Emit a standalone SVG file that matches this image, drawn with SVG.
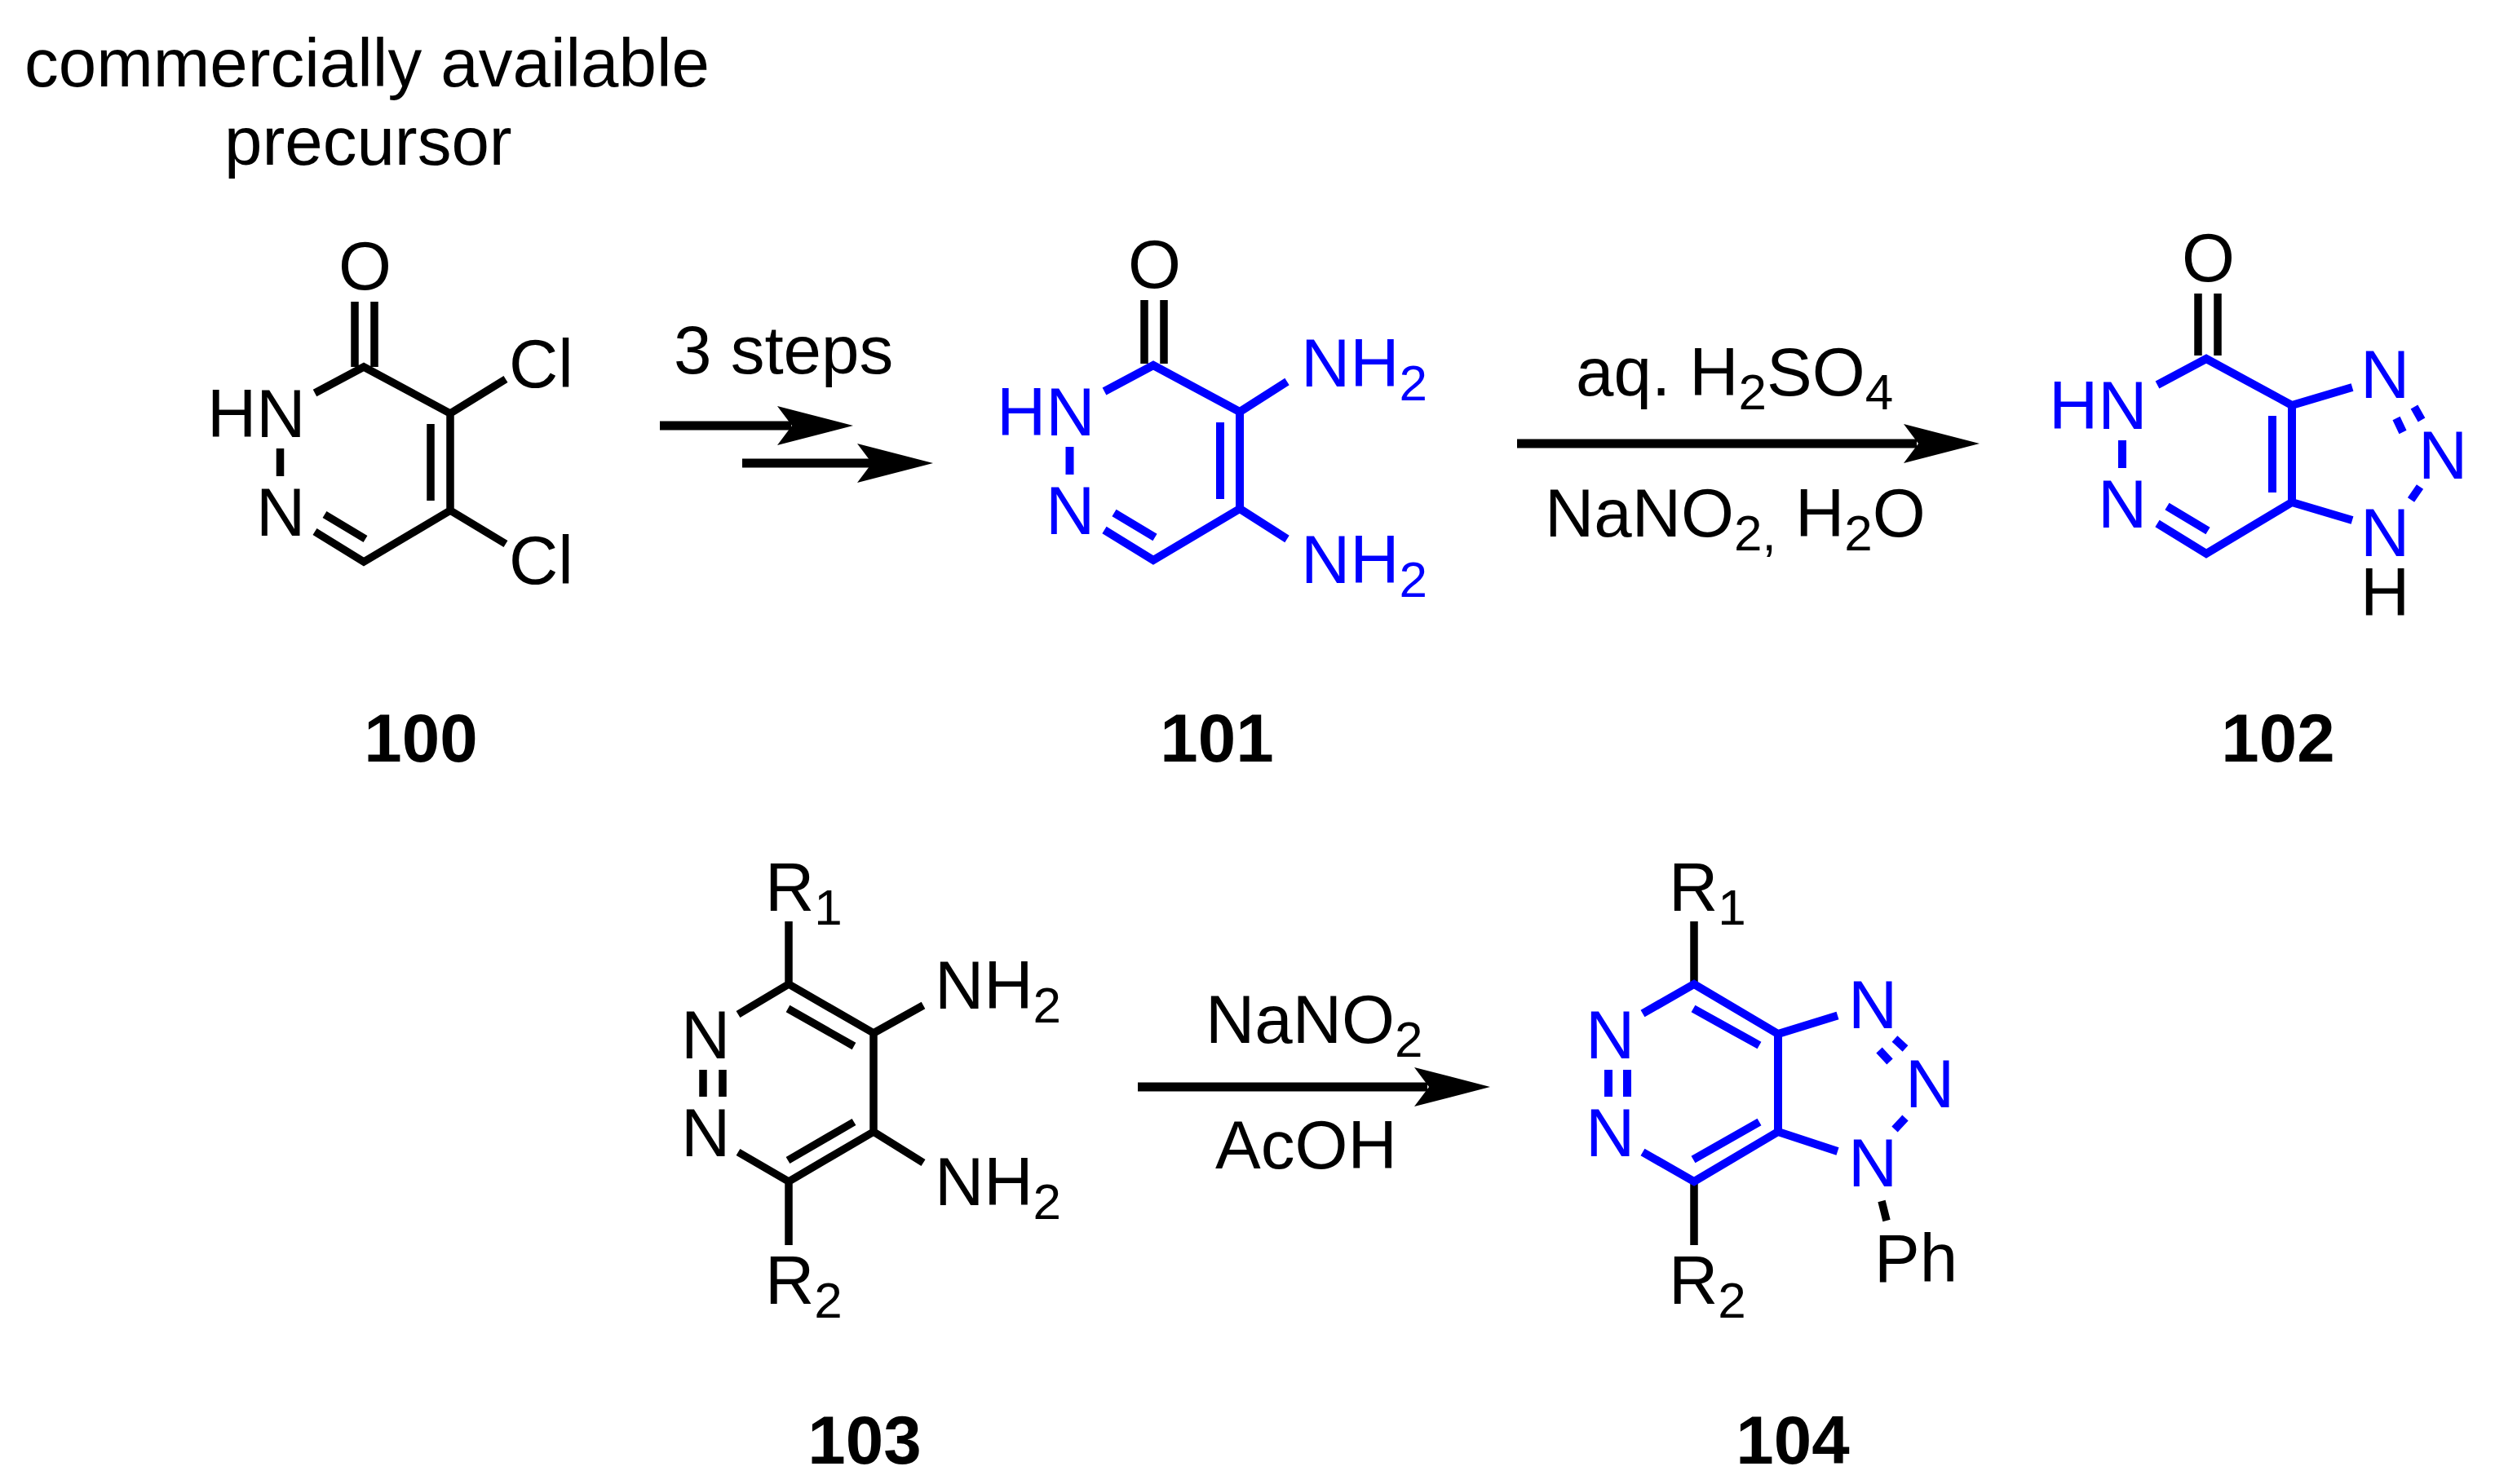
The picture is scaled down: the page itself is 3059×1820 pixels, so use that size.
<svg xmlns="http://www.w3.org/2000/svg" width="3059" height="1820" viewBox="0 0 3059 1820">
<style>
text{font-family:"Liberation Sans",Arial,sans-serif;font-size:83.500px;fill:#000}
.sub{font-size:62px}
.b{font-weight:bold}
.u{fill:#0000ff}
.bk{fill:none;stroke:#000;stroke-width:9.500}
.bl{fill:none;stroke:#0000ff;stroke-width:10}
.ar{stroke:#000;stroke-width:11;fill:none}
</style>
<defs>
<path id="head" d="M0 0L-93 -24L-75 0L-93 24Z" fill="#000"/>
</defs>
<rect width="3059" height="1820" fill="#fff"/>
<g id="connectors">
<path class="ar" d="M809 522H970"/><use href="#head" x="1046" y="522"/>
<path class="ar" d="M910 568H1070"/><use href="#head" x="1144" y="568"/>
<path class="ar" d="M1860 544H2350"/><use href="#head" x="2427" y="544"/>
<path class="ar" d="M1395 1333H1750"/><use href="#head" x="1827" y="1333"/>
</g>
<g id="caption">
<text x="30" y="106">commercially available</text>
<text x="275" y="202">precursor</text>
</g>
<g id="mol100">
<path class="bk" d="M386 482L446 450L552 507V626L446 689L386 652M552 507L620 465M552 626L620 667M528 520V614M398 631L448 661M343.500 550V584M435 370V450M459 370V450"/>
<text x="415" y="355">O</text>
<text x="254" y="536">HN</text>
<text x="314" y="657">N</text>
<text x="624" y="475">Cl</text>
<text x="624" y="716">Cl</text>
<text class="b" x="516" y="934" text-anchor="middle">100</text>
</g>
<g id="reagent1">
<text x="826" y="458">3 steps</text>
</g>
<g id="mol101">
<path class="bk" d="M1403 368V446M1427 368V446"/>
<path class="bl" d="M1354 480L1414 448L1520 505V624L1414 687L1354 650M1520 505L1578 468M1520 624L1578 661M1496 518V612M1366 629L1416 659M1311.500 548V582"/>
<text x="1383" y="353">O</text>
<text class="u" x="1222" y="534">HN</text>
<text class="u" x="1282" y="655">N</text>
<text class="u" x="1595" y="474">NH<tspan class="sub" dy="17">2</tspan></text>
<text class="u" x="1595" y="715">NH<tspan class="sub" dy="17">2</tspan></text>
<text class="b" x="1492" y="934" text-anchor="middle">101</text>
</g>
<g id="reagent2">
<text x="1932" y="485">aq. H<tspan class="sub" dy="17">2</tspan><tspan dy="-17">SO</tspan><tspan class="sub" dy="17">4</tspan></text>
<text x="1894" y="658">NaNO<tspan class="sub" dy="17">2,</tspan><tspan dy="-17"> H</tspan><tspan class="sub" dy="17">2</tspan><tspan dy="-17">O</tspan></text>
</g>
<g id="mol102">
<path class="bk" d="M2695 360V436M2719 360V436"/>
<path class="bl" d="M2645 472L2705 440L2810 497V616L2705 679L2645 642M2810 497L2884 475M2810 616L2884 638M2786 510V604M2657 621L2707 651M2602 540V574M2938 513L2946 530M2960 499L2969 515M2967 597L2956 613"/>
<text x="2675" y="345">O</text>
<text class="u" x="2512" y="526">HN</text>
<text class="u" x="2572" y="647">N</text>
<text class="u" x="2894" y="488">N</text>
<text class="u" x="2965" y="587">N</text>
<text class="u" x="2894" y="682">N</text>
<text x="2894" y="755">H</text>
<text class="b" x="2793" y="934" text-anchor="middle">102</text>
</g>
<g id="mol103">
<path class="bk" d="M905 1244L967 1207L1071 1267V1388L967 1449L905 1413M967 1130V1207M967 1449V1527M966 1237L1047 1283M966 1423L1047 1376M862 1312V1345M886 1312V1345M1071 1267L1132 1233M1071 1388L1132 1426"/>
<text x="835" y="1298">N</text>
<text x="835" y="1418">N</text>
<text x="1146" y="1237">NH<tspan class="sub" dy="17">2</tspan></text>
<text x="1146" y="1478">NH<tspan class="sub" dy="17">2</tspan></text>
<text x="938" y="1117">R<tspan class="sub" dy="17">1</tspan></text>
<text x="938" y="1599">R<tspan class="sub" dy="17">2</tspan></text>
<text class="b" x="1060" y="1795" text-anchor="middle">103</text>
</g>
<g id="reagent3">
<text x="1478" y="1279">NaNO<tspan class="sub" dy="17">2</tspan></text>
<text x="1490" y="1433">AcOH</text>
</g>
<g id="mol104">
<path class="bk" d="M2077 1130V1207M2077 1449V1527M2307 1473L2313 1497"/>
<path class="bl" d="M2014 1243L2077 1207L2180 1268V1388L2077 1449L2014 1413M2076 1237L2157 1282M2076 1422L2157 1376M1972 1312V1345M1995 1312V1345M2180 1268L2253 1245.500M2180 1388L2253 1412M2304 1288L2317 1302M2323 1274L2336 1286M2323 1385L2336 1371"/>
<text class="u" x="1944" y="1298">N</text>
<text class="u" x="1944" y="1418">N</text>
<text class="u" x="2266" y="1261">N</text>
<text class="u" x="2336" y="1358">N</text>
<text class="u" x="2266" y="1455">N</text>
<text x="2298" y="1572">Ph</text>
<text x="2046" y="1117">R<tspan class="sub" dy="17">1</tspan></text>
<text x="2046" y="1599">R<tspan class="sub" dy="17">2</tspan></text>
<text class="b" x="2198" y="1795" text-anchor="middle">104</text>
</g>
</svg>
